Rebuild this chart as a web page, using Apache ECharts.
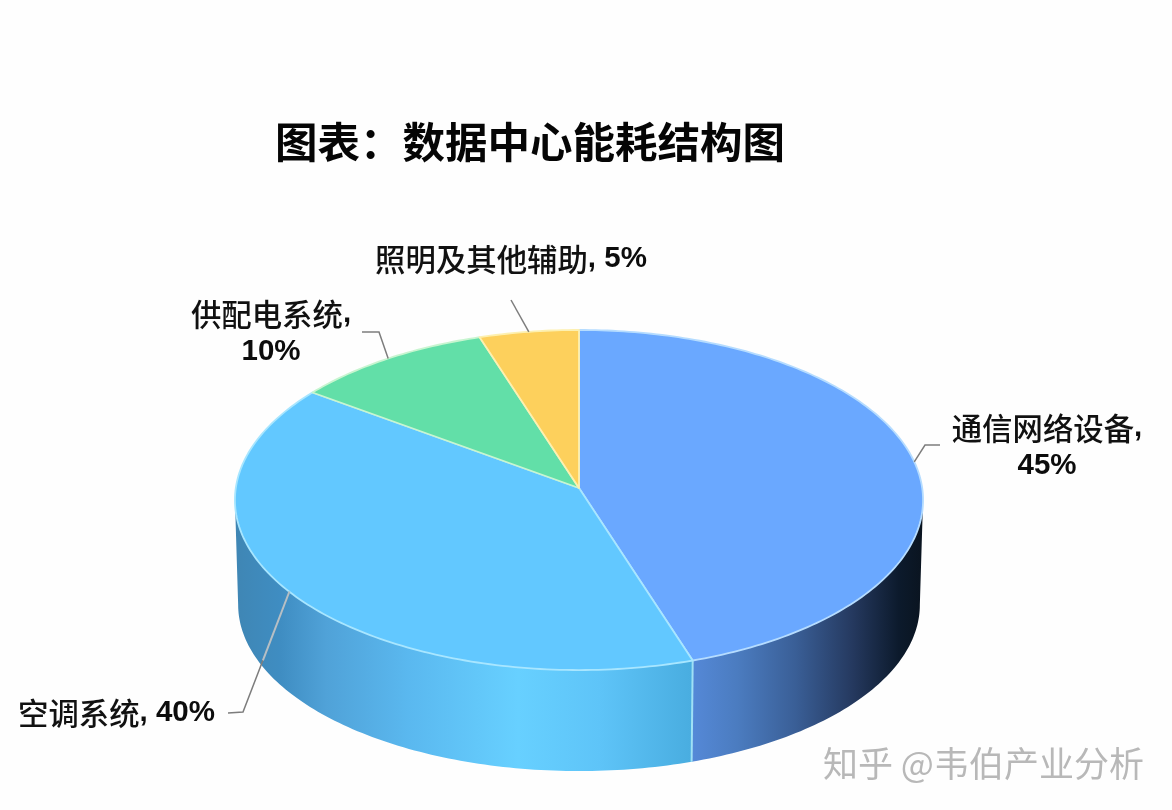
<!DOCTYPE html>
<html><head><meta charset="utf-8">
<style>html,body{margin:0;padding:0;background:#fefefe}#c{width:1172px;height:810px}</style>
<script src="https://cdn.jsdelivr.net/npm/echarts@6/dist/echarts.min.js"></script>
</head><body><div id="c"></div>
<script>
// ---- data ----
const categories = ['通信网络设备', '空调系统', '供配电系统', '照明及其他辅助'];
const shares = [45, 40, 10, 5];
const titleText = '图表：数据中心能耗结构图';
const watermark = '知乎 @韦伯产业分析';

// ---- styles / layout ----
const topColors = ['#6aa8ff', '#62c8ff', '#62dfa8', '#fdd05c'];
const seamColors = ['#b5dcff', '#a8e6ff', '#c8f5d0', '#fdf0b0'];
const sideStops = [
  [[0, '#5589d8'], [0.2, '#4b7cc0'], [0.45, '#3a5f97'], [0.7, '#25395f'], [0.9, '#0c1a2c'], [1, '#0a1420']],
  [[0, '#3f86b4'], [0.1, '#3f8dc2'], [0.2, '#50a2d8'], [0.38, '#5ab8ef'], [0.62, '#67d0ff'], [0.8, '#5ec4f8'], [1, '#49ade0']],
  null, null
];
const sideSpan = [[691, 922], [235, 691], null, null];
// perspective discs: (cx, cy) is the projected disc centre, k the foreshortening
const top_ = { cx: 579, cy: 488, a: 343.2, b: 169.2, k: 0.0706 };
const bottom_ = { cx: 579, cy: 593, a: 340, b: 165.5, k: 0.0706 };
const silhouette = Math.acos(-top_.k) * 180 / Math.PI;
const labelLayout = [
  { x: 1047, y: 447, align: 'center', brk: true, elbow: [[925, 445], [940, 445]] },
  { x: 18, y: 713, align: 'left', brk: false, elbow: [[243, 712], [228, 713]], over: 0.57 },
  { x: 271, y: 333, align: 'center', brk: true, elbow: [[379, 332], [362, 332]] },
  { x: 511, y: 259, align: 'center', brk: false, elbow: [[511, 300]] }
];
const CJK = '"Noto Sans CJK SC"';
const LAT = '"Liberation Sans"';

const pt = (e, deg) => {
  const r = deg * Math.PI / 180, w = 1 / (1 + e.k * Math.cos(r));
  return [e.cx + e.a * Math.sin(r) * w, e.cy - e.b * Math.cos(r) * w];
};
const arc = (e, a, b) => {
  const out = [], n = Math.max(2, Math.ceil(Math.abs(b - a)));
  for (let i = 0; i <= n; i++) out.push(pt(e, a + (b - a) * i / n));
  return out;
};
const total = shares.reduce((s, v) => s + v, 0);

function renderItem(params, api) {
  const i = params.dataIndex;
  let before = 0;
  for (let k = 0; k < i; k++) before += shares[k];
  const a0 = before / total * 360, a1 = (before + api.value(0)) / total * 360;
  const children = [];

  // side wall
  const s0 = Math.max(a0, silhouette), s1 = Math.min(a1, 360 - silhouette);
  if (s1 > s0 && sideStops[i]) {
    const poly = arc(top_, s0, s1).concat(arc(bottom_, s1, s0));
    children.push({
      type: 'polygon', shape: { points: poly },
      style: {
        fill: { type: 'linear', global: true, x: sideSpan[i][0], y: 0, x2: sideSpan[i][1], y2: 0,
          colorStops: sideStops[i].map(s => ({ offset: s[0], color: s[1] })) },
        stroke: null
      }
    });
    if (a0 > silhouette) { // seam between two side walls
      const p = pt(top_, s0), q = pt(bottom_, s0);
      children.push({
        type: 'line', shape: { x1: p[0], y1: p[1], x2: q[0], y2: q[1] },
        style: { stroke: '#9fe0f5', lineWidth: 2 }
      });
    }
  }
  // top face
  children.push({
    type: 'polygon',
    shape: { points: [[top_.cx, top_.cy]].concat(arc(top_, a0, a1)) },
    style: { fill: topColors[i], stroke: seamColors[i], lineWidth: 1.8, lineJoin: 'round' }
  });

  // leader line
  const L = labelLayout[i];
  const start = pt(top_, (a0 + a1) / 2);
  children.push({
    type: 'polyline', shape: { points: [start].concat(L.elbow) },
    style: { stroke: '#7d7d7d', lineWidth: 1.5, fill: null }
  });
  if (L.over) {
    const e = L.elbow[0];
    children.push({
      type: 'line',
      shape: { x1: start[0], y1: start[1], x2: start[0] + (e[0] - start[0]) * L.over, y2: start[1] + (e[1] - start[1]) * L.over },
      style: { stroke: '#b4c0c8', lineWidth: 2 }
    });
  }
  // label text
  const val = api.value(0) + '%';
  children.push({
    type: 'text',
    style: {
      x: L.x, y: L.y, align: L.align, verticalAlign: 'middle',
      text: '{c|' + categories[i] + '}{n|,' + (L.brk ? '' : ' ' + val) + '}' + (L.brk ? '\n{n|' + val + '}' : ''),
      rich: {
        c: { font: '500 30.4px ' + CJK, fill: '#111', lineHeight: 38 },
        n: { font: 'bold 29.5px ' + LAT, fill: '#0c0c0c', lineHeight: 38 }
      }
    }
  });
  return { type: 'group', children };
}

const chart = echarts.init(document.getElementById('c'), null, { renderer: 'canvas' });
chart.setOption({
  backgroundColor: '#fefefe',
  animation: false,
  title: {
    text: titleText, left: 270, top: 116,
    textStyle: { fontFamily: CJK, fontWeight: 'bold', fontSize: 42.5, color: '#050505' }
  },
  graphic: [{
    type: 'text', x: 823, y: 764,
    style: { text: watermark, font: '35px ' + CJK, fill: '#b8b8b8', verticalAlign: 'middle' }
  }],
  series: [{
    type: 'custom', coordinateSystem: 'none', silent: true,
    renderItem,
    data: categories.map((name, i) => ({ name, value: [shares[i]] }))
  }]
});
</script></body></html>
